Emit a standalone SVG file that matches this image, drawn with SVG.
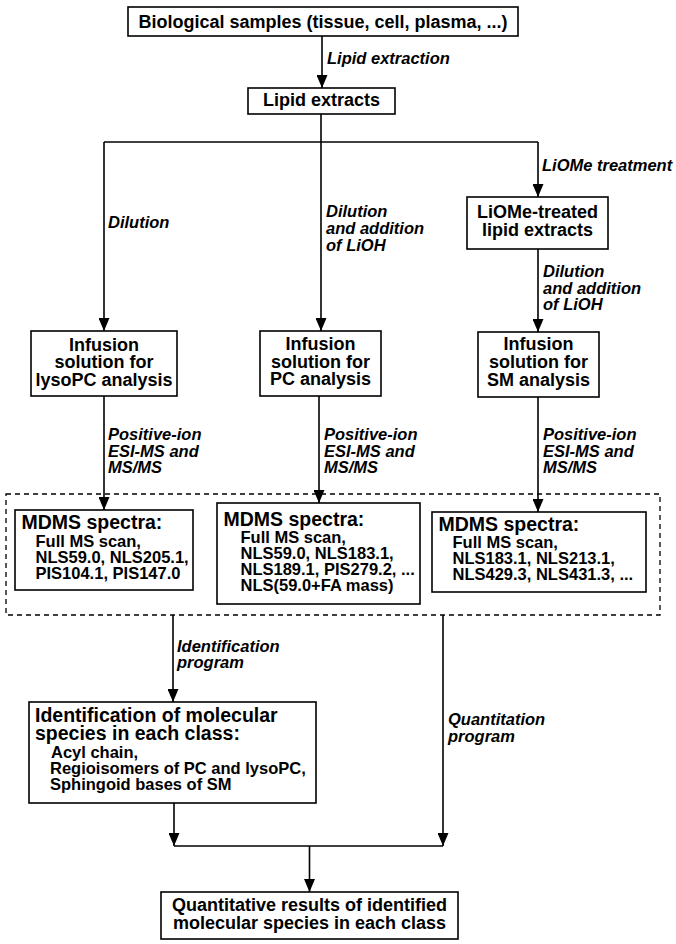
<svg xmlns="http://www.w3.org/2000/svg" width="676" height="944" viewBox="0 0 676 944">
<defs>
<marker id="ah" viewBox="0 0 13 11" refX="13" refY="5.5" markerWidth="13" markerHeight="11" markerUnits="userSpaceOnUse" orient="auto">
<path d="M0,0 L13,5.5 L0,11 z" fill="#000"/>
</marker>
<style>
.box{fill:#fff;stroke:#000;stroke-width:1.6}
.dash{fill:none;stroke:#000;stroke-width:1.3;stroke-dasharray:5 4}
.t{font-family:"Liberation Sans",Arial,Helvetica,sans-serif;font-weight:bold;font-size:18px;fill:#000}
.c{text-anchor:middle}
.h{font-size:19.5px}
.s{font-size:16.5px}
.lbl{font-family:"Liberation Sans",Arial,Helvetica,sans-serif;font-weight:bold;font-style:italic;font-size:16.5px;fill:#000}
.ln{stroke:#000;stroke-width:1.6;fill:none}
.arr{marker-end:url(#ah)}
</style>
</defs>
<rect width="676" height="944" fill="#fff"/>

<g id="connectors">
<line class="ln arr" x1="322" y1="36" x2="322" y2="88"/>
<line class="ln" x1="104" y1="142" x2="538" y2="142"/>
<line class="ln arr" x1="104" y1="142" x2="104" y2="331"/>
<line class="ln arr" x1="321" y1="114" x2="321" y2="331"/>
<line class="ln arr" x1="538" y1="142" x2="538" y2="197"/>
<line class="ln arr" x1="538" y1="249" x2="538" y2="332"/>
<line class="ln arr" x1="104" y1="396" x2="104" y2="510"/>
<line class="ln arr" x1="319" y1="396" x2="319" y2="503"/>
<line class="ln arr" x1="538" y1="397" x2="538" y2="512"/>
<line class="ln arr" x1="173" y1="615" x2="173" y2="702"/>
<line class="ln arr" x1="443" y1="615" x2="443" y2="846"/>
<line class="ln arr" x1="174" y1="803" x2="174" y2="846"/>
<line class="ln" x1="174" y1="846" x2="443" y2="846"/>
<line class="ln arr" x1="309.5" y1="846" x2="309.5" y2="892"/>
<text class="lbl" x="327" y="64">Lipid extraction</text>
<text class="lbl" x="542" y="171">LiOMe treatment</text>
<text class="lbl" x="108" y="228">Dilution</text>
<text class="lbl" x="326" y="217">Dilution</text>
<text class="lbl" x="326" y="234">and addition</text>
<text class="lbl" x="326" y="251">of LiOH</text>
<text class="lbl" x="543" y="277">Dilution</text>
<text class="lbl" x="543" y="293.5">and addition</text>
<text class="lbl" x="543" y="309.5">of LiOH</text>
<text class="lbl" x="108" y="440">Positive-ion</text>
<text class="lbl" x="108" y="457">ESI-MS and</text>
<text class="lbl" x="108" y="473">MS/MS</text>
<text class="lbl" x="324" y="440">Positive-ion</text>
<text class="lbl" x="324" y="457">ESI-MS and</text>
<text class="lbl" x="324" y="473">MS/MS</text>
<text class="lbl" x="543" y="440">Positive-ion</text>
<text class="lbl" x="543" y="457">ESI-MS and</text>
<text class="lbl" x="543" y="473">MS/MS</text>
<text class="lbl" x="177" y="652">Identification</text>
<text class="lbl" x="177" y="668">program</text>
<text class="lbl" x="448" y="725">Quantitation</text>
<text class="lbl" x="448" y="742">program</text>
</g>

<g id="n_samples">
<rect class="box" x="128" y="7" width="390" height="29"/>
<text class="t c" x="323" y="28">Biological samples (tissue, cell, plasma, ...)</text>
</g>
<g id="n_extracts">
<rect class="box" x="248" y="88" width="147" height="26"/>
<text class="t c" x="321.5" y="106">Lipid extracts</text>
</g>
<g id="n_liome">
<rect class="box" x="467" y="197" width="141" height="52"/>
<text class="t c" x="537.5" y="218">LiOMe-treated</text>
<text class="t c" x="537.5" y="236">lipid extracts</text>
</g>
<g id="n_inf_lysopc">
<rect class="box" x="31" y="331" width="146" height="65"/>
<text class="t c" x="104" y="350.5">Infusion</text>
<text class="t c" x="104" y="368">solution for</text>
<text class="t c" x="104" y="386">lysoPC analysis</text>
</g>
<g id="n_inf_pc">
<rect class="box" x="260" y="331" width="121" height="65"/>
<text class="t c" x="320.5" y="350">Infusion</text>
<text class="t c" x="320.5" y="367.5">solution for</text>
<text class="t c" x="320.5" y="385">PC analysis</text>
</g>
<g id="n_inf_sm">
<rect class="box" x="478" y="332" width="121" height="65"/>
<text class="t c" x="538.5" y="350">Infusion</text>
<text class="t c" x="538.5" y="368">solution for</text>
<text class="t c" x="538.5" y="385.5">SM analysis</text>
</g>
<g id="n_mdms_group">
<rect class="dash" x="6" y="494" width="654" height="121"/>
</g>
<g id="n_mdms_lysopc">
<rect class="box" x="15" y="510" width="178" height="80"/>
<text class="t h" x="21.5" y="529">MDMS spectra:</text>
<text class="t s" x="35.5" y="546.5">Full MS scan,</text>
<text class="t s" x="35.5" y="562.5">NLS59.0, NLS205.1,</text>
<text class="t s" x="35.5" y="578.5">PIS104.1, PIS147.0</text>
</g>
<g id="n_mdms_pc">
<rect class="box" x="217" y="503" width="203" height="101"/>
<text class="t h" x="223.5" y="525.5">MDMS spectra:</text>
<text class="t s" x="240.5" y="543">Full MS scan,</text>
<text class="t s" x="240.5" y="559">NLS59.0, NLS183.1,</text>
<text class="t s" x="240.5" y="575">NLS189.1, PIS279.2, ...</text>
<text class="t s" x="240.5" y="591">NLS(59.0+FA mass)</text>
</g>
<g id="n_mdms_sm">
<rect class="box" x="432" y="512" width="214" height="80"/>
<text class="t h" x="438.5" y="531">MDMS spectra:</text>
<text class="t s" x="452.5" y="547.5">Full MS scan,</text>
<text class="t s" x="452.5" y="563.5">NLS183.1, NLS213.1,</text>
<text class="t s" x="452.5" y="579.5">NLS429.3, NLS431.3, ...</text>
</g>
<g id="n_ident">
<rect class="box" x="29" y="702" width="287" height="101"/>
<text class="t h" x="35" y="722">Identification of molecular</text>
<text class="t h" x="35" y="740">species in each class:</text>
<text class="t s" x="51" y="757.5">Acyl chain,</text>
<text class="t s" x="50" y="774">Regioisomers of PC and lysoPC,</text>
<text class="t s" x="50" y="790">Sphingoid bases of SM</text>
</g>
<g id="n_result">
<rect class="box" x="161" y="892" width="297" height="47"/>
<text class="t c" x="309.5" y="911">Quantitative results of identified</text>
<text class="t c" x="309.5" y="928.5">molecular species in each class</text>
</g>
</svg>
